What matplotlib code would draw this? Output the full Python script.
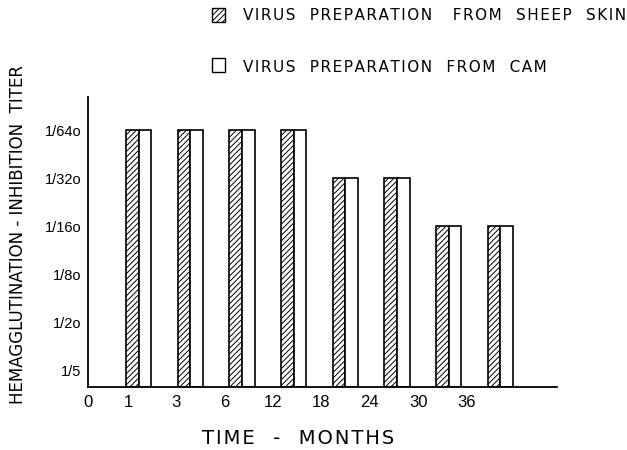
import numpy as np
import matplotlib
matplotlib.use('Agg')
import matplotlib.pyplot as plt
from matplotlib.patches import Rectangle

# data
months = ['1', '3', '6', '12', '18', '24', '30', '36']
sheep_skin_titer = [640, 640, 640, 640, 320, 320, 160, 160]
cam_titer = [640, 640, 640, 640, 320, 320, 160, 160]
titer_levels = [5, 20, 80, 160, 320, 640]
titer_labels = ['1/5', '1/2o', '1/8o', '1/16o', '1/32o', '1/64o']

plt.rcParams['font.family'] = ['Liberation Sans', 'DejaVu Sans']
plt.rcParams['hatch.linewidth'] = 0.7


def spaced(s):
    # the typeset original uses wide letter spacing; hair spaces mimic it
    return '\u200a'.join(s)


# titers are drawn on an evenly spaced ladder of dilutions
level = {t: i + 1 for i, t in enumerate(titer_levels)}
sheep_y = [level[t] for t in sheep_skin_titer]
cam_y = [level[t] for t in cam_titer]

fig = plt.figure(figsize=(6.27, 4.5), dpi=100)
ax = fig.add_axes([0.1404, 0.14, 0.888 - 0.1404, 0.644])

ybase = 0.646
slots = np.arange(1, len(months) + 1)
w = 0.245
ax.bar(slots, np.array(sheep_y) - ybase, bottom=ybase, width=w, align='edge',
       facecolor='white', edgecolor='black', linewidth=1.2, hatch='//////')
ax.bar(slots + w, np.array(cam_y) - ybase, bottom=ybase, width=w, align='edge',
       facecolor='white', edgecolor='black', linewidth=1.2)

ax.set_xlim(0.265, 9.34)
ax.set_ylim(ybase, 6.69)

# month labels in the original sit a little left of their bars
tick_x = [0.265] + list(0.10 + 0.937 * slots)
ax.set_xticks(tick_x)
ax.set_xticklabels(['0'] + months, fontsize=12)
ax.set_yticks(range(1, len(titer_levels) + 1))
ax.set_yticklabels(titer_labels, fontsize=10.5)
ax.tick_params(length=0, pad=6)
ax.tick_params(axis='y', pad=5)

for s in ['top', 'right']:
    ax.spines[s].set_visible(False)
for s in ['left', 'bottom']:
    ax.spines[s].set_linewidth(1.3)

fig.text(298 / 627, 1 - 439 / 450, spaced('TIME  -  MONTHS'), fontsize=14,
         family='DejaVu Sans', ha='center', va='center')
fig.text(18 / 627, 1 - 235 / 450,
         'HEMAGGLUTINATION - INHIBITION  TITER',
         fontsize=12, family='DejaVu Sans', rotation=90,
         ha='center', va='center')

# legend drawn by hand like the original
fig.add_artist(Rectangle((212 / 627, 1 - 22 / 450), 13 / 627, 14 / 450,
                         transform=fig.transFigure, facecolor='white',
                         edgecolor='black', linewidth=1, hatch='//////'))
fig.add_artist(Rectangle((212 / 627, 1 - 72 / 450), 13 / 627, 14 / 450,
                         transform=fig.transFigure, facecolor='white',
                         edgecolor='black', linewidth=1))
fig.text(243 / 627, 1 - 16 / 450, spaced('VIRUS  PREPARATION   FROM  SHEEP  SKIN'),
         fontsize=11, family='DejaVu Sans', ha='left', va='center')
fig.text(243 / 627, 1 - 67 / 450, spaced('VIRUS  PREPARATION  FROM  CAM'),
         fontsize=11, family='DejaVu Sans', ha='left', va='center')

fig.savefig('out.png', dpi=100)
